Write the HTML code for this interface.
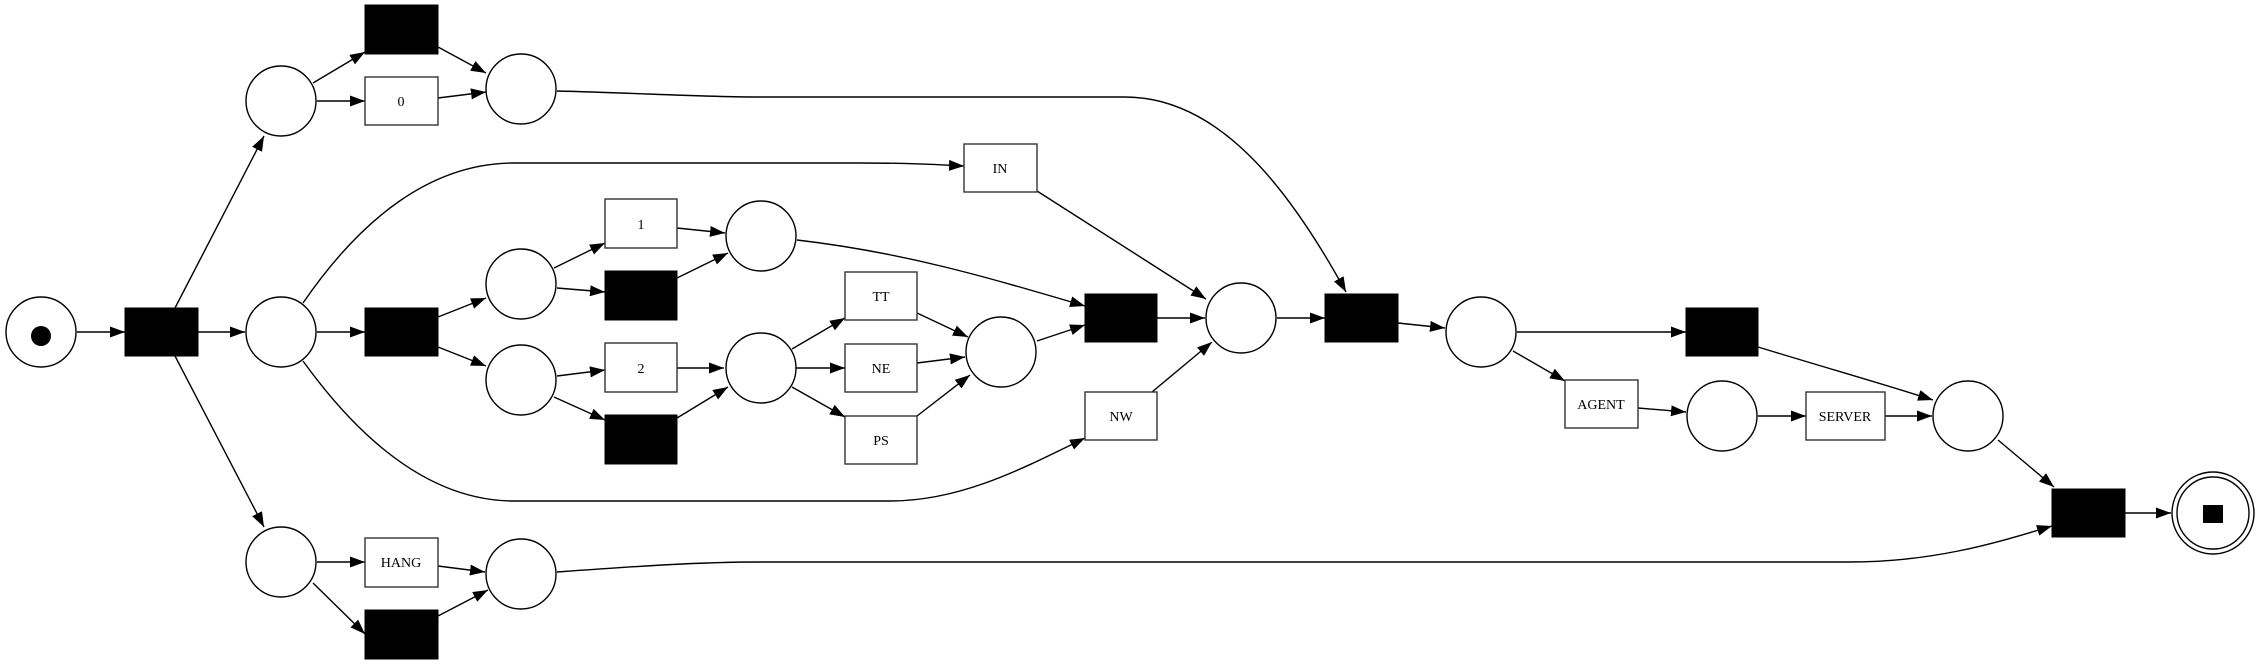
<!DOCTYPE html>
<html><head><meta charset="utf-8"><style>html,body{margin:0;padding:0;background:#fff}svg{display:block}</style></head><body>
<svg width="2262" height="664" viewBox="0 0 2262 664" xmlns="http://www.w3.org/2000/svg">
<defs><marker id="a" markerUnits="userSpaceOnUse" markerWidth="16" markerHeight="12" refX="15" refY="5.5" orient="auto"><path d="M0,0 L15,5.5 L0,11 z" fill="#000"/></marker></defs>
<g fill="none" stroke="#000" stroke-width="1.4" marker-end="url(#a)">
<path d="M77,332 L125,332"/>
<path d="M198,332 L245,332"/>
<path d="M175,308 L264,136"/>
<path d="M175,356 L264,527"/>
<path d="M313,83 L365,52"/>
<path d="M317,101 L365,101"/>
<path d="M438,47 L486,73"/>
<path d="M438,98 L486,92"/>
<path d="M317,332 L365,332"/>
<path d="M438,317 L486,298"/>
<path d="M438,347 L486,366"/>
<path d="M554,268 L605,243"/>
<path d="M557,288 L605,292"/>
<path d="M677,228 L725,233"/>
<path d="M677,278 L728,253"/>
<path d="M557,376 L605,370"/>
<path d="M554,397 L605,420"/>
<path d="M677,368 L724,368"/>
<path d="M677,418 L728,387"/>
<path d="M317,562 L365,562"/>
<path d="M313,583 L365,634"/>
<path d="M438,566 L485,572"/>
<path d="M438,616 L488,590"/>
<path d="M792,349 L845,318"/>
<path d="M796,368 L845,368"/>
<path d="M792,387 L845,417"/>
<path d="M917,313 L968,337"/>
<path d="M917,363 L965,357"/>
<path d="M917,416 L970,375"/>
<path d="M1037,341 L1085,325"/>
<path d="M1157,318 L1205,318"/>
<path d="M1037,191 L1206,299"/>
<path d="M1152,392 L1212,342"/>
<path d="M1277,318 L1325,318"/>
<path d="M1398,323 L1445,328"/>
<path d="M1517,332 L1686,332"/>
<path d="M1513,351 L1565,381"/>
<path d="M1638,408 L1686,412"/>
<path d="M1758,416 L1806,416"/>
<path d="M1885,416 L1932,416"/>
<path d="M1998,440 L2054,487"/>
<path d="M2125,513 L2171,513"/>
<path d="M797,240 C900,252 980,275 1085,306"/>
<path d="M303,303 C360,220 430,163 514,163 L860,163 C920,163 940,165 964,166"/>
<path d="M303,361 C360,440 430,501 514,501 L890,501 C960,501 1020,470 1085,438"/>
<path d="M557,91 C640,93 700,97 760,97 L1125,97 C1220,97 1290,190 1346,292"/>
<path d="M557,572 C640,566 700,562 760,562 L1849,562 C1930,562 1990,545 2052,526"/>
<path d="M1758,347 C1830,369 1890,386 1933,400"/>
</g>
<g fill="#fff" stroke="#000" stroke-width="1.4">
<circle cx="41" cy="332" r="35"/>
<circle cx="281" cy="101" r="35"/>
<circle cx="281" cy="332" r="35"/>
<circle cx="281" cy="562" r="35"/>
<circle cx="521" cy="89" r="35"/>
<circle cx="521" cy="284" r="35"/>
<circle cx="521" cy="380" r="35"/>
<circle cx="521" cy="574" r="35"/>
<circle cx="761" cy="236" r="35"/>
<circle cx="761" cy="368" r="35"/>
<circle cx="1001" cy="352" r="35"/>
<circle cx="1241" cy="318" r="35"/>
<circle cx="1481" cy="332" r="35"/>
<circle cx="1722" cy="416" r="35"/>
<circle cx="1968" cy="416" r="35"/>
<circle cx="2213" cy="513" r="41"/>
<circle cx="2213" cy="513" r="36"/>
</g>
<circle cx="41" cy="336" r="10" fill="#000"/>
<rect x="2203" y="505" width="20" height="18" fill="#000"/>
<g fill="#000" stroke="#000" stroke-width="1">
<rect x="125" y="308" width="73" height="48"/>
<rect x="365" y="5" width="73" height="49"/>
<rect x="365" y="308" width="73" height="48"/>
<rect x="605" y="271" width="72" height="49"/>
<rect x="605" y="415" width="72" height="49"/>
<rect x="365" y="610" width="73" height="49"/>
<rect x="1085" y="294" width="72" height="48"/>
<rect x="1325" y="294" width="73" height="48"/>
<rect x="1686" y="308" width="72" height="48"/>
<rect x="2052" y="489" width="73" height="48"/>
</g>
<g fill="#fff" stroke="#333" stroke-width="1.4">
<rect x="365" y="77" width="73" height="48"/>
<rect x="605" y="199" width="72" height="49"/>
<rect x="605" y="343" width="72" height="49"/>
<rect x="365" y="538" width="73" height="49"/>
<rect x="964" y="144" width="73" height="48"/>
<rect x="845" y="272" width="72" height="48"/>
<rect x="845" y="344" width="72" height="48"/>
<rect x="845" y="416" width="72" height="48"/>
<rect x="1085" y="392" width="72" height="48"/>
<rect x="1565" y="380" width="73" height="48"/>
<rect x="1806" y="392" width="79" height="48"/>
</g>
<g font-family="Liberation Serif, serif" font-size="14" text-anchor="middle" fill="#000">
<text x="401" y="106">0</text>
<text x="641" y="229">1</text>
<text x="641" y="373">2</text>
<text x="401" y="567">HANG</text>
<text x="1000" y="173">IN</text>
<text x="881" y="301">TT</text>
<text x="881" y="373">NE</text>
<text x="881" y="445">PS</text>
<text x="1121" y="421">NW</text>
<text x="1601" y="409">AGENT</text>
<text x="1845" y="421">SERVER</text>
</g>
</svg>
</body></html>
